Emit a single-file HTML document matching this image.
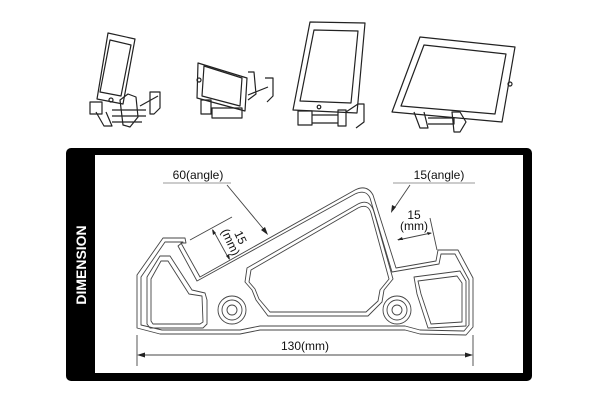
<!DOCTYPE html>
<html><head><meta charset="utf-8"><style>
html,body{margin:0;padding:0;background:#fff;}
svg{display:block;}
text{font-family:"Liberation Sans",Arial,sans-serif;}
</style></head><body>
<svg width="600" height="400" viewBox="0 0 600 400" xmlns="http://www.w3.org/2000/svg">
<rect width="600" height="400" fill="#fff"/>
<!-- top images -->
<g fill="none" stroke="#222" stroke-width="1.2" stroke-linejoin="round">
  <!-- phone 1 -->
  <path d="M108,33 L135,39 L123,104 L97,99 Z" fill="#fff"/>
  <path d="M110,40 L131,45 L121,96 L100,92 Z"/>
  <circle cx="111" cy="100" r="2"/>
  <path d="M90,102 h12 v12 h-12 z M96,112 l8,14 h8 l-6,-14 M120,100 l8,-6 l8,3 l2,20 l-8,10 l-7,-2 z M150,92 h10 v16 l-6,6 h-4z M112,110 h34 M112,116 h34 M112,122 h30 M140,106 l18,-10"/>
  <!-- phone 2 -->
  <path d="M198,63 L247,78 L245,111 L197,98 Z" fill="#fff"/>
  <path d="M204,66 L242,78 L240,106 L202,96 Z"/>
  <circle cx="199" cy="80" r="2"/>
  <path d="M248,72 h6 l2,22 l-8,6 M265,78 h8 v18 l-6,6 M201,100 h10 v14 h-10 z M212,108 h30 v10 h-30z M248,95 l20,-8"/>
  <!-- tablet 3 -->
  <path d="M310,22 L365,23 L357,113 L293,110 Z" fill="#fff"/>
  <path d="M314,30 L358,31 L351,103 L300,101 Z"/>
  <circle cx="319" cy="107" r="1.8"/>
  <path d="M298,111 h14 v14 h-14z M312,115 h26 v8 h-26 M338,110 h8 v16 h-8 z M346,112 l12,-8 h6 v18 l-8,6"/>
  <!-- tablet 4 -->
  <path d="M420,37 L515,47 L502,122 L392,112 Z" fill="#fff"/>
  <path d="M424,45 L506,54 L495,114 L401,106 Z"/>
  <circle cx="510" cy="84" r="2"/>
  <path d="M414,112 l6,16 h8 l-4,-16 M428,118 h26 v6 h-26 M452,112 h8 l6,10 l-6,10 h-6z"/>
</g>
<!-- frame -->
<rect x="66" y="148" width="466" height="233" rx="5" fill="#000"/>
<rect x="95" y="155" width="428" height="218" fill="#fff"/>
<text x="0" y="0" transform="translate(86,265) rotate(-90)" text-anchor="middle" fill="#fff" font-size="14" font-weight="bold">DIMENSION</text>
<!-- main shape -->
<g fill="none" stroke="#444" stroke-width="0.9" stroke-linejoin="round">
  <path d="M163,238 L185,238 L186,243 L181,243 L200,277 L355,190 Q367,184 373,195 L396,268 L436,261 L438,250 L458,250 L473,278 L473,327 L466,335 L420,334 L405,330 L260,330 L240,334 L160,334 L137,328 L137,275 Z"/>
  <path d="M165,242 L183,242 L178,246 L197,281 L355,194 Q366,189 370,198 L392,272 L439,264 L441,254 L455,254 L469,280 L469,325 L464,331 L420,330 L405,326 L260,326 L240,330 L162,330 L141,325 L141,277 Z"/>
  <path d="M247,268 L358,204 Q370,198 374,212 L393,279 L384,290 L382,302 L368,316 L268,316 L256,300 L252,290 L245,282 Z"/>
  <path d="M251,270 L358,208 Q368,203 371,213 L389,279 L380,290 L378,301 L366,312 L270,312 L259,299 L255,289 L249,282 Z"/>
  <path d="M147,277 L160,256 L170,256 L192,290 L205,293 L207,300 L207,324 L203,328 L150,328 L147,324 Z"/>
  <path d="M151,279 L161,261 L168,261 L189,294 L202,296 L203,322 L200,324 L153,324 L151,321 Z"/>
  <path d="M414,277 L460,271 L466,281 L466,326 L428,328 L417,294 Z"/>
  <path d="M418,281 L457,276 L462,283 L462,322 L431,324 L421,294 Z"/>
  <circle cx="232" cy="310" r="14"/><circle cx="232" cy="310" r="10"/><circle cx="232" cy="310" r="5"/>
  <circle cx="397" cy="310" r="14"/><circle cx="397" cy="310" r="10"/><circle cx="397" cy="310" r="5"/>
</g>
<!-- dimensions -->
<g stroke="#444" stroke-width="0.9" fill="none">
  <line x1="137" y1="335" x2="137" y2="366"/>
  <line x1="473" y1="335" x2="473" y2="366"/>
  <line x1="141" y1="355" x2="469" y2="355"/>
  <line x1="163" y1="183" x2="231" y2="183" stroke="#999"/>
  <line x1="227" y1="185" x2="266" y2="232"/>
  <line x1="393" y1="183" x2="475" y2="183" stroke="#999"/>
  <line x1="410" y1="185" x2="393" y2="210"/>
  <line x1="190" y1="240" x2="232" y2="217"/>
  <line x1="213" y1="230" x2="229" y2="259"/>
  <line x1="398" y1="240" x2="431" y2="233"/>
  <line x1="430" y1="218" x2="437" y2="250"/>
</g>
<g fill="#222">
  <path d="M137,355 l8,-2.5 v5z"/><path d="M473,355 l-8,-2.5 v5z"/>
  <path d="M268,235 l-7,-5 l4,-3z"/>
  <path d="M391,213 l1,-8 l4,2z"/>
  <path d="M212,229 l1,6 l3,-2z"/><path d="M230,260 l-1,-6 l-3,2z"/>
  <path d="M397,240 l5,-3 l1,3z"/><path d="M432,233 l-5,-1 l1,3z"/>
</g>
<g fill="#111" font-size="12">
  <text x="305" y="350" text-anchor="middle">130(mm)</text>
  <text x="198" y="179" text-anchor="middle">60(angle)</text>
  <text x="439" y="179" text-anchor="middle">15(angle)</text>
  <text x="414" y="219" text-anchor="middle">15</text>
  <text x="414" y="230" text-anchor="middle">(mm)</text>
  <g transform="translate(235,240) rotate(65)"><text x="0" y="-2" text-anchor="middle">15</text><text x="0" y="9" text-anchor="middle">(mm)</text></g>
</g>
</svg>
</body></html>
